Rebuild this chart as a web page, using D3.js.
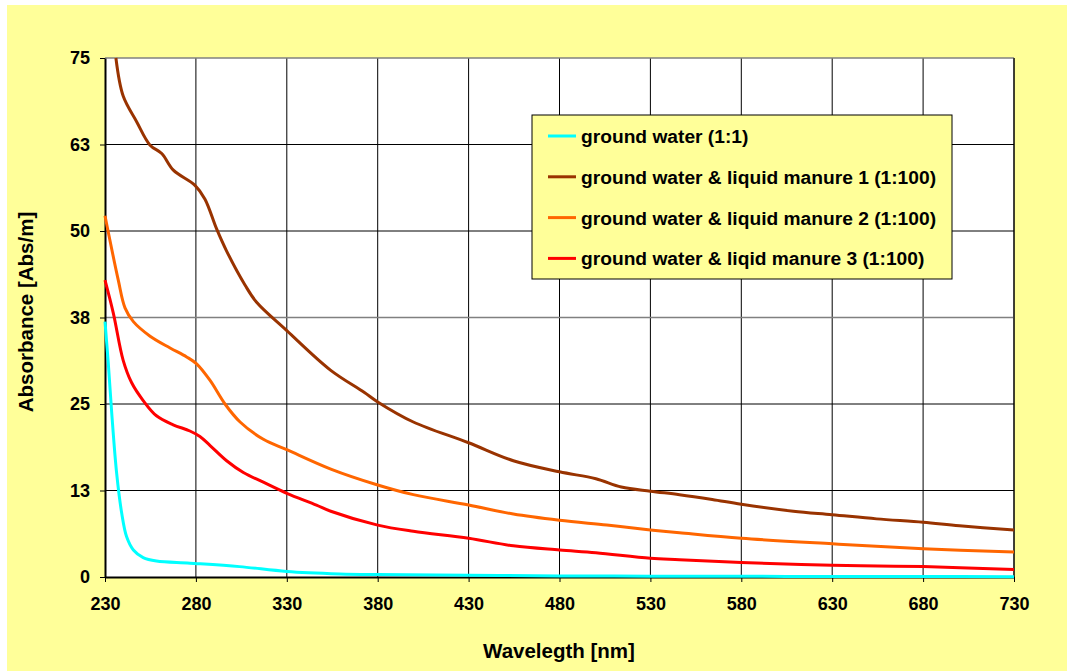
<!DOCTYPE html>
<html>
<head>
<meta charset="utf-8">
<script src="https://cdn.jsdelivr.net/npm/d3@7"></script>
<style>
  body { margin: 0; background: #fff; }
  text { font-family: "Liberation Sans", Arial, sans-serif; font-weight: bold; }
</style>
</head>
<body>
<div id="chart"></div>
<script>
// Data
const seriesNames = [
    "ground water (1:1)",
    "ground water & liquid manure 1 (1:100)",
    "ground water & liquid manure 2 (1:100)",
    "ground water & liqid manure 3 (1:100)"
];
const seriesColors = ["#00FFFF", "#993300", "#FF6600", "#FF0000"];

const groundWater = [
    [230, 36.9], [231.8, 30.9], [233.7, 23.7], [236.4, 15], [239.2, 9.2], [241.9, 5.8],
    [245.6, 3.9], [251, 2.8], [258.3, 2.3], [276.7, 2.0], [304, 1.5], [330, 0.8],
    [359, 0.45], [380, 0.35], [430, 0.25], [480, 0.15], [530, 0.12], [580, 0.1],
    [630, 0.08], [680, 0.06], [730, 0.05]
];
const manure1 = [
    [236, 75], [240, 69.5], [247.4, 65.8], [254.8, 62.4], [261.2, 61.2], [267.6, 58.8],
    [279.5, 56.6], [285, 54.6], [291.4, 50.3], [296.9, 47.1], [307, 42.2], [313.4, 39.7],
    [330, 35.6], [354, 29.9], [372.5, 26.7], [380, 25.3], [399.6, 22.4], [430, 19.4],
    [454.6, 16.8], [480, 15.2], [500, 14.2], [514, 13.0], [530, 12.4], [546, 11.9],
    [564, 11.2], [580, 10.5], [608.6, 9.5], [630, 9.0], [654.4, 8.4], [680, 7.9],
    [700, 7.4], [730, 6.8]
];
const manure2 = [
    [230, 52.2], [237.3, 42.9], [241, 38.9], [245.6, 36.9], [254.8, 34.8], [265.8, 33.1],
    [274.9, 31.8], [280.4, 30.8], [287.8, 28.4], [296, 25.0], [304.3, 22.4], [317.1, 19.9],
    [330, 18.4], [354.2, 15.6], [380, 13.3], [399.6, 11.9], [430, 10.4], [454.6, 9.1],
    [480, 8.2], [506, 7.5], [530, 6.8], [546, 6.4], [580, 5.6], [630, 4.8], [680, 4.1],
    [730, 3.6]
];
const manure3 = [
    [230, 42.9], [234.6, 38.1], [240, 31.3], [244.6, 28.1], [251, 25.5], [258.3, 23.3],
    [267.5, 22], [276.7, 21.1], [282.2, 20.3], [287.8, 19.0], [296.9, 16.8], [306.1, 15.1],
    [317.1, 13.7], [330, 12.1], [346.3, 10.4], [354.2, 9.5], [380, 7.5], [399.6, 6.6],
    [430, 5.6], [454.6, 4.5], [480, 3.9], [500, 3.5], [530, 2.7], [546, 2.5], [580, 2.1],
    [630, 1.7], [680, 1.5], [730, 1.1]
];
const seriesData = [groundWater, manure1, manure2, manure3];

const xTicks = [230, 280, 330, 380, 430, 480, 530, 580, 630, 680, 730];
const yTicks = [0, 12.5, 25, 37.5, 50, 62.5, 75];
const yTickLabels = ["0", "13", "25", "38", "50", "63", "75"];

// Layout
const W = 1067, H = 671;
const margin = { top: 58, right: 53, bottom: 94, left: 105 };
const width = W - margin.left - margin.right,
    height = H - margin.top - margin.bottom;

const svg = d3.select("#chart")
    .append("svg")
    .attr("width", W)
    .attr("height", H);

// Yellow chart background
svg.append("rect")
    .attr("x", 7).attr("y", 5)
    .attr("width", W - 7).attr("height", H - 5)
    .attr("fill", "#FFFF99");

const g = svg.append("g")
    .attr("transform", `translate(${margin.left},${margin.top})`);

const x = d3.scaleLinear().domain([230, 730]).range([0, width]);
const y = d3.scaleLinear().domain([0, 75]).range([height, 0]);

// Plot area
g.append("rect")
    .attr("width", width).attr("height", height)
    .attr("fill", "#fff");

// Gridlines
g.selectAll(".vgrid")
    .data(xTicks.slice(1))
    .join("line")
    .attr("x1", d => x(d)).attr("x2", d => x(d))
    .attr("y1", 0).attr("y2", height)
    .attr("stroke", "#000").attr("stroke-width", 1);

g.selectAll(".hgrid")
    .data(yTicks.slice(1))
    .join("line")
    .attr("x1", 0).attr("x2", width)
    .attr("y1", d => y(d)).attr("y2", d => y(d))
    .attr("stroke", d => d === 37.5 || d === 75 ? "#808080" : "#000")
    .attr("stroke-width", d => d === 37.5 || d === 75 ? 1.5 : 1);

// Right border
g.append("line")
    .attr("x1", width).attr("x2", width)
    .attr("y1", 0).attr("y2", height)
    .attr("stroke", "#000");

// Axes
const yAxis = g.append("g")
    .call(d3.axisLeft(y).tickValues(yTicks)
        .tickFormat((d, i) => yTickLabels[i])
        .tickSize(5).tickSizeOuter(0));
yAxis.select(".domain").attr("stroke", "#000").attr("stroke-width", 2);
yAxis.selectAll("text")
    .attr("font-size", 18).attr("fill", "#000")
    .attr("x", -15).attr("font-family", "Liberation Sans, Arial, sans-serif").attr("font-weight", "bold");

const xAxis = g.append("g")
    .attr("transform", `translate(0,${height})`)
    .call(d3.axisBottom(x).tickValues(xTicks).tickSize(5).tickSizeOuter(0));
xAxis.select(".domain").attr("stroke", "#000").attr("stroke-width", 2);
xAxis.selectAll("text")
    .attr("font-size", 18).attr("fill", "#000")
    .attr("y", 20).attr("font-family", "Liberation Sans, Arial, sans-serif").attr("font-weight", "bold");

// Lines
const line = d3.line()
    .x(d => x(d[0]))
    .y(d => y(d[1]))
    .curve(d3.curveCatmullRom.alpha(0.5));

seriesData.forEach((data, i) => {
    g.append("path")
        .datum(data)
        .attr("fill", "none")
        .attr("stroke", seriesColors[i])
        .attr("stroke-width", 3)
        .attr("d", line);
});

// Axis titles
svg.append("text")
    .attr("x", 559).attr("y", 658)
    .attr("text-anchor", "middle")
    .attr("font-size", 20.5)
    .text("Wavelegth [nm]");

svg.append("text")
    .attr("transform", "translate(33,312) rotate(-90)")
    .attr("text-anchor", "middle")
    .attr("font-size", 20.5)
    .text("Absorbance [Abs/m]");

// Legend
const legend = svg.append("g").attr("transform", "translate(532,115)");
legend.append("rect")
    .attr("width", 420).attr("height", 164)
    .attr("fill", "#FFFF99")
    .attr("stroke", "#000").attr("stroke-width", 1);

seriesNames.forEach((name, i) => {
    const ly = 21 + i * 40.8;
    legend.append("line")
        .attr("x1", 16).attr("x2", 44)
        .attr("y1", ly).attr("y2", ly)
        .attr("stroke", seriesColors[i]).attr("stroke-width", 3);
    legend.append("text")
        .attr("x", 49).attr("y", ly + 7)
        .attr("font-size", 19.2)
        .text(name);
});
</script>
</body>
</html>
